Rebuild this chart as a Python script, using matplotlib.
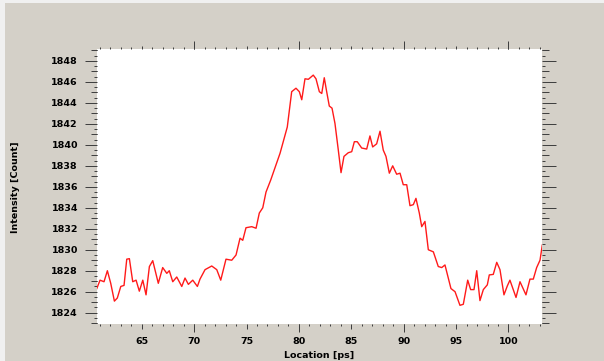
import matplotlib
matplotlib.use("Agg")
import matplotlib.pyplot as plt
import numpy as np
from matplotlib.patches import Rectangle
from matplotlib.ticker import MultipleLocator, FixedLocator, NullFormatter

# Measured trace: location in ps, intensity in counts
location = [
    60.71, 61.02, 61.40, 61.72, 62.04, 62.39, 62.67, 63.00, 63.31, 63.57,
    63.82, 64.14, 64.46, 64.77, 65.10, 65.41, 65.73, 66.05, 66.58, 67.00,
    67.39, 67.63, 67.96, 68.34, 68.82, 69.13, 69.45, 69.87, 70.31, 70.56,
    71.04, 71.68, 72.16, 72.54, 73.04, 73.59, 74.00, 74.38, 74.64, 74.95,
    75.50, 75.91, 76.22, 76.55, 76.86, 77.31, 78.20, 78.89, 79.31, 79.72,
    80.04, 80.27, 80.58, 80.90, 81.37, 81.63, 81.95, 82.18, 82.42, 82.65,
    82.90, 83.16, 83.44, 83.76, 84.02, 84.30, 84.71, 85.04, 85.29, 85.57,
    85.99, 86.47, 86.78, 87.04, 87.42, 87.74, 88.05, 88.31, 88.63, 88.95,
    89.33, 89.65, 89.96, 90.29, 90.60, 90.92, 91.17, 91.49, 91.72, 92.03,
    92.35, 92.83, 93.30, 93.63, 93.94, 94.51, 94.90, 95.37, 95.69, 96.11,
    96.39, 96.71, 96.97, 97.28, 97.60, 97.98, 98.17, 98.55, 98.88, 99.19,
    99.57, 99.89, 100.14, 100.72, 101.10, 101.67, 102.05, 102.37, 102.69, 103.01,
    103.23,
]
intensity = [
    1826.3, 1827.1, 1826.95, 1828.0, 1826.8, 1825.1, 1825.4, 1826.5, 1826.6, 1829.1,
    1829.15, 1826.95, 1827.1, 1826.05, 1827.1, 1825.7, 1828.4, 1828.96, 1826.8, 1828.3,
    1827.75, 1828.0, 1826.95, 1827.4, 1826.5, 1827.3, 1826.7, 1827.1, 1826.5, 1827.2,
    1828.1, 1828.45, 1828.1, 1827.1, 1829.1, 1829.0, 1829.5, 1831.1, 1830.9, 1832.1,
    1832.2, 1832.05, 1833.5, 1834.0, 1835.5, 1836.65, 1839.2, 1841.7, 1845.07, 1845.4,
    1845.07, 1844.3, 1846.3, 1846.25, 1846.65, 1846.3, 1845.07, 1844.9, 1846.4, 1845.07,
    1843.7, 1843.5, 1842.05, 1839.5, 1837.35, 1838.9, 1839.25, 1839.35, 1840.3, 1840.3,
    1839.7, 1839.6, 1840.85, 1839.8, 1840.1, 1841.3, 1839.5, 1838.9, 1837.3, 1838.0,
    1837.2, 1837.3, 1836.2, 1836.2, 1834.2, 1834.3, 1834.9, 1833.5, 1832.2, 1832.7,
    1830.0, 1829.8, 1828.4, 1828.3, 1828.55, 1826.3, 1826.0, 1824.7, 1824.8, 1827.1,
    1826.2, 1826.2, 1828.0, 1825.15, 1826.2, 1826.65, 1827.6, 1827.65, 1828.8, 1828.1,
    1825.7, 1826.55, 1827.1, 1825.45, 1826.95, 1825.7, 1827.2, 1827.2, 1828.3, 1829.0,
    1830.45,
]

x_labeled = [65, 70, 75, 80, 85, 90, 95, 100]
x_long = [70, 80, 90, 100]
y_labeled = [1824, 1826, 1828, 1830, 1832, 1834, 1836, 1838, 1840, 1842, 1844, 1846, 1848]
y_mid = [1823, 1825, 1827, 1829, 1831, 1833, 1835, 1837, 1839, 1841, 1843, 1845, 1847, 1849]

PANEL = "#d4d0c8"
TICK = "#404040"
PX = 0.72  # points per pixel at 100 dpi

fig = plt.figure(figsize=(6.04, 3.61), dpi=100, facecolor="#f0f0f0")
panel = Rectangle((5 / 604, 0), 1, (361 - 3) / 361, transform=fig.transFigure,
                  facecolor=PANEL, edgecolor="none", zorder=-10)
fig.add_artist(panel)

ax = fig.add_axes([97 / 604, 1 - 324 / 361, 445 / 604, 275 / 361])
ax.set_zorder(5)
ax.set_facecolor("white")
ax.plot(location, intensity, color="#ff1a1a", linewidth=1.0)
ax.set_xlim(60.73, 103.2)
ax.set_ylim(1822.92, 1849.14)

for s in ax.spines.values():
    s.set_visible(False)

font = dict(family="DejaVu Sans", weight="bold", size=6.8)

# bottom / left ticks on the main axes
ax.xaxis.set_major_locator(FixedLocator(x_labeled))
ax.xaxis.set_minor_locator(MultipleLocator(1))
ax.yaxis.set_major_locator(FixedLocator(y_labeled))
ax.yaxis.set_minor_locator(MultipleLocator(0.5))
ax.tick_params(axis="x", which="major", direction="out", length=4.5 * PX,
               width=1 * PX, color=TICK, pad=9 * PX, labelsize=6.8)
ax.tick_params(axis="x", which="minor", direction="out", length=2 * PX,
               width=1 * PX, color=TICK)
ax.tick_params(axis="y", which="major", direction="out", length=12 * PX,
               width=1 * PX, color=TICK, pad=7 * PX, labelsize=6.8)
ax.tick_params(axis="y", which="minor", direction="out", length=3 * PX,
               width=1 * PX, color=TICK)
for lab in ax.get_xticklabels() + ax.get_yticklabels():
    lab.set_fontweight("bold")
    lab.set_family("DejaVu Sans")


def extra_axis(kind, side, major, major_len, minor=None, minor_len=0):
    sec = ax.secondary_xaxis(side) if kind == "x" else ax.secondary_yaxis(side)
    for s in sec.spines.values():
        s.set_visible(False)
    axis = sec.xaxis if kind == "x" else sec.yaxis
    axis.set_major_locator(major)
    axis.set_major_formatter(NullFormatter())
    if minor is not None:
        axis.set_minor_locator(minor)
        axis.set_minor_formatter(NullFormatter())
        sec.tick_params(axis=kind, which="minor", direction="out",
                        length=minor_len * PX, width=1 * PX, color=TICK)
    sec.tick_params(axis=kind, which="major", direction="out",
                    length=major_len * PX, width=1 * PX, color=TICK)
    return sec


# longer ticks at every 10 ps below, three levels of ticks above
extra_axis("x", "bottom", FixedLocator(x_long), 8)
extra_axis("x", "top", FixedLocator(x_labeled), 3.5, MultipleLocator(1), 2)
extra_axis("x", "top", FixedLocator(x_long), 8)
# odd-count ticks on the left, three tick levels on the right
extra_axis("y", "left", FixedLocator(y_mid), 6)
extra_axis("y", "right", FixedLocator(y_labeled), 14, MultipleLocator(0.5), 3.3)
extra_axis("y", "right", FixedLocator(y_mid), 7)

fig.text(319.5 / 604, 1 - 355 / 361, "Location [ps]", ha="center", va="center", **font)
fig.text(15.5 / 604, 1 - 187.5 / 361, "Intensity [Count]", ha="center", va="center",
         rotation=90, **font)

fig.savefig("out.png", dpi=100, facecolor=fig.get_facecolor())
